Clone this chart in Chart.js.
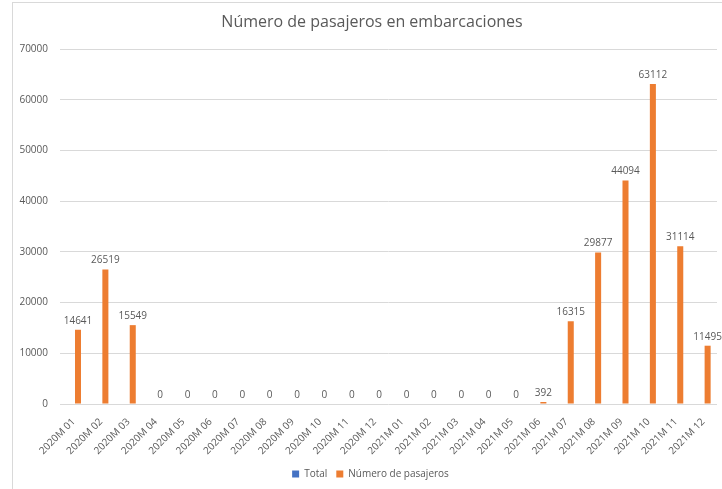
<!DOCTYPE html>
<html>
<head>
<meta charset="utf-8">
<script src="https://cdn.jsdelivr.net/npm/chart.js@4/dist/chart.umd.min.js"></script>
<style>
  html, body { margin: 0; padding: 0; background: #fff; }
  #frame { position: absolute; left: 12px; top: 2px; width: 720px; height: 500px;
           border-left: 1px solid #d9d9d9; border-top: 1px solid #d9d9d9; }
  #wrap { position: absolute; left: 0; top: 0; width: 722px; height: 489px; }
</style>
</head>
<body>
<div id="frame"></div>
<div id="wrap"><canvas id="chart" width="722" height="489"></canvas></div>
<script>
// Chart data
const categories = [
    '2020M 01', '2020M 02', '2020M 03', '2020M 04', '2020M 05', '2020M 06',
    '2020M 07', '2020M 08', '2020M 09', '2020M 10', '2020M 11', '2020M 12',
    '2021M 01', '2021M 02', '2021M 03', '2021M 04', '2021M 05', '2021M 06',
    '2021M 07', '2021M 08', '2021M 09', '2021M 10', '2021M 11', '2021M 12'
];
const totalValues = categories.map(() => null);
const pasajeros = [
    14641, 26519, 15549, 0, 0, 0,
    0, 0, 0, 0, 0, 0,
    0, 0, 0, 0, 0, 392,
    16315, 29877, 44094, 63112, 31114, 11495
];
const yTicks = [0, 10000, 20000, 30000, 40000, 50000, 60000, 70000];
const chartTitle = 'Número de pasajeros en embarcaciones';

const textColor = '#595959';
const gridColor = '#d9d9d9';
const fontFamily = '"Open Sans", "Noto Sans", sans-serif';

// Title drawn by hand so it can sit slightly right of the canvas centre, like the original
const titlePlugin = {
    id: 'titlePlugin',
    afterDraw(chart) {
        const ctx = chart.ctx;
        ctx.save();
        ctx.font = '16px ' + fontFamily;
        ctx.fillStyle = textColor;
        ctx.textAlign = 'center';
        ctx.textBaseline = 'middle';
        ctx.fillText(chartTitle, 372, 22);
        ctx.restore();
    }
};

// Nudge the legend a bit to the right (original is centred on the plot, not the canvas)
const legendShift = {
    id: 'legendShift',
    afterLayout(chart) {
        chart.legend.left += 12;
        chart.legend.right += 12;
    }
};

// Draw the value above every bar of the passenger series
const valueLabels = {
    id: 'valueLabels',
    afterDatasetsDraw(chart) {
        const ctx = chart.ctx;
        const meta = chart.getDatasetMeta(1);
        ctx.save();
        ctx.font = '10px ' + fontFamily;
        ctx.fillStyle = textColor;
        ctx.textAlign = 'center';
        ctx.textBaseline = 'bottom';
        meta.data.forEach((bar, i) => {
            ctx.fillText(String(pasajeros[i]), bar.x, bar.y - 4);
        });
        ctx.restore();
    }
};

new Chart(document.getElementById('chart'), {
    type: 'bar',
    data: {
        labels: categories,
        datasets: [{
            label: 'Total',
            data: totalValues,
            backgroundColor: '#4472C4'
        }, {
            label: 'Número de pasajeros',
            data: pasajeros,
            backgroundColor: '#ED7D31'
        }]
    },
    options: {
        responsive: false,
        animation: false,
        categoryPercentage: 0.63,
        barPercentage: 0.7,
        layout: { padding: { left: 0, right: 5, top: 49, bottom: 0 } },
        scales: {
            x: {
                grid: { display: false },
                border: { display: false },
                ticks: {
                    color: textColor,
                    font: { family: fontFamily, size: 10 },
                    minRotation: 45,
                    maxRotation: 45,
                    autoSkip: false,
                    padding: 4
                },
                afterFit(scale) { scale.height = 56; }
            },
            y: {
                min: 0,
                max: 70000,
                border: { display: false },
                grid: { color: gridColor, drawTicks: false },
                afterBuildTicks(scale) {
                    scale.ticks = yTicks.map(v => ({ value: v }));
                },
                ticks: {
                    color: textColor,
                    font: { family: fontFamily, size: 10 },
                    padding: 12,
                    callback: value => String(value)
                },
                afterFit(scale) { scale.width = 60; }
            }
        },
        plugins: {
            title: { display: false },
            legend: {
                position: 'bottom',
                labels: {
                    color: textColor,
                    font: { family: fontFamily, size: 10 },
                    boxWidth: 7,
                    boxHeight: 7,
                    padding: 9
                }
            },
            tooltip: { enabled: false }
        }
    },
    plugins: [valueLabels, titlePlugin, legendShift]
});
</script>
</body>
</html>
